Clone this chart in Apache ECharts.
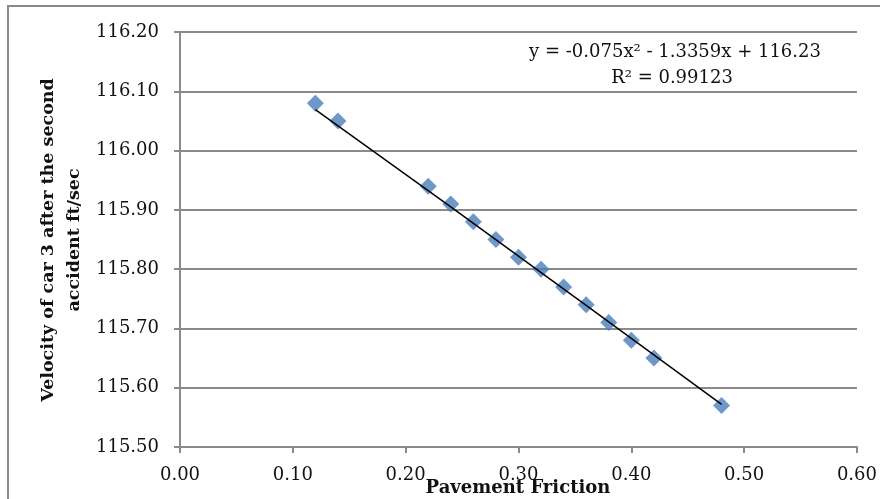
<!DOCTYPE html>
<html>
<head>
<meta charset="utf-8">
<script src="https://cdn.jsdelivr.net/npm/echarts@6/dist/echarts.min.js"></script>
<style>
html,body{margin:0;padding:0;background:#fff;}
#c{width:880px;height:499px;}
</style>
</head>
<body>
<div id="c"></div>
<script>
// Data
const friction = [0.12, 0.14, 0.22, 0.24, 0.26, 0.28, 0.30, 0.32, 0.34, 0.36, 0.38, 0.40, 0.42, 0.48];
const velocity = [116.08, 116.05, 115.94, 115.91, 115.88, 115.85, 115.82, 115.80, 115.77, 115.74, 115.71, 115.68, 115.65, 115.57];
// Trendline points (as drawn in the reference)
const trendX = [0.12, 0.24, 0.36, 0.48];
const trendY = [116.069, 115.905, 115.739, 115.572];
const xTicks = ['0.00', '0.10', '0.20', '0.30', '0.40', '0.50', '0.60'];
const yTicks = ['115.50', '115.60', '115.70', '115.80', '115.90', '116.00', '116.10', '116.20'];
const eqLine1 = 'y = -0.075x² - 1.3359x + 116.23';
const eqLine2 = 'R² = 0.99123';
const xTitle = 'Pavement Friction';
const yTitle = 'Velocity of car 3 after the second\naccident ft/sec';

const FONT = 'DejaVu Serif';
const chart = echarts.init(document.getElementById('c'), null, {renderer: 'canvas'});
const gridColor = '#8a8a8a';

chart.setOption({
  animation: false,
  backgroundColor: '#ffffff',
  grid: {left: 180, top: 32, right: 23, bottom: 52, containLabel: false},
  xAxis: {
    type: 'value', min: 0, max: 0.6, interval: 0.1,
    axisLine: {show: true, lineStyle: {color: gridColor, width: 2}},
    axisTick: {show: true, length: 6, lineStyle: {color: gridColor, width: 2}},
    splitLine: {show: false},
    axisLabel: {
      color: '#111', fontFamily: FONT, fontSize: 18, margin: 19,
      formatter: v => xTicks[Math.round(v * 10)]
    }
  },
  yAxis: {
    type: 'value', min: 115.5, max: 116.2, interval: 0.1,
    axisLine: {show: true, lineStyle: {color: gridColor, width: 2}},
    axisTick: {show: true, length: 6, lineStyle: {color: gridColor, width: 2}},
    splitLine: {show: true, lineStyle: {color: gridColor, width: 2}},
    axisLabel: {
      color: '#111', fontFamily: FONT, fontSize: 18, margin: 21,
      formatter: v => yTicks[Math.round((v - 115.5) * 10)]
    }
  },
  series: [
    {
      type: 'line',
      data: trendX.map((x, i) => [x, trendY[i]]),
      showSymbol: false, symbol: 'none',
      lineStyle: {color: '#000', width: 1.5},
      z: 3
    },
    {
      type: 'scatter',
      data: friction.map((x, i) => [x, velocity[i]]),
      symbol: 'diamond', symbolSize: 17,
      itemStyle: {color: '#4A7EBB'},
      z: 2
    }
  ],
  graphic: [
    {type: 'rect', shape: {x: 8, y: 6, width: 890, height: 520}, style: {fill: 'none', stroke: gridColor, lineWidth: 2}, silent: true, z: -10},
    {type: 'text', x: 675, y: 52, style: {text: eqLine1, font: '18px "' + FONT + '"', fill: '#111', textAlign: 'center', textVerticalAlign: 'middle'}},
    {type: 'text', x: 672, y: 78, style: {text: eqLine2, font: '18px "' + FONT + '"', fill: '#111', textAlign: 'center', textVerticalAlign: 'middle'}},
    {type: 'text', x: 518, y: 488, style: {text: xTitle, font: 'bold 18px "' + FONT + '"', fill: '#111', textAlign: 'center', textVerticalAlign: 'middle'}},
    {type: 'text', x: 61, y: 240, rotation: Math.PI / 2, style: {text: yTitle, font: 'bold 17.5px "' + FONT + '"', fill: '#111', textAlign: 'center', textVerticalAlign: 'middle', lineHeight: 26}}
  ]
});
</script>
</body>
</html>
